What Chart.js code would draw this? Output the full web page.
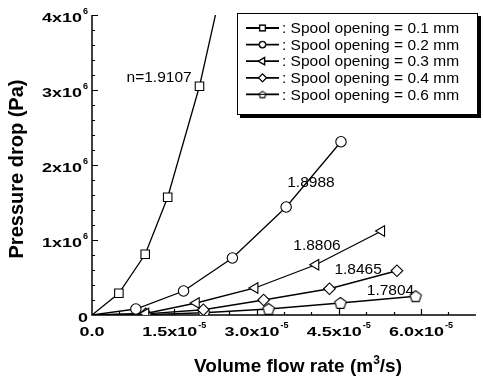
<!DOCTYPE html>
<html>
<head>
<meta charset="utf-8">
<script src="https://cdn.jsdelivr.net/npm/chart.js@4.4.1/dist/chart.umd.min.js"></script>
<style>
html, body { margin: 0; padding: 0; background: #fff; }
canvas { display: block; }
</style>
</head>
<body>
<canvas id="chart" width="483" height="382"></canvas>
<script>
// data (flow in m^3/s, pressure drop in Pa)
const flow01 = [0, 0.49e-5, 0.97e-5, 1.38e-5, 1.96e-5, 2.45e-5];
const dp01   = [0, 0.29e6, 0.81e6, 1.57e6, 3.05e6, 4.65e6];
const flow02 = [0, 0.80e-5, 1.67e-5, 2.56e-5, 3.54e-5, 4.54e-5];
const dp02   = [0, 0.08e6, 0.32e6, 0.76e6, 1.44e6, 2.31e6];
const flow03 = [0, 0.98e-5, 1.90e-5, 2.97e-5, 4.08e-5, 5.28e-5];
const dp03   = [0, 0.02e6, 0.16e6, 0.36e6, 0.67e6, 1.12e6];
const flow04 = [0, 0.98e-5, 2.03e-5, 3.13e-5, 4.33e-5, 5.56e-5];
const dp04   = [0, 0.015e6, 0.07e6, 0.20e6, 0.35e6, 0.59e6];
const flow06 = [0, 0.98e-5, 2.04e-5, 3.22e-5, 4.53e-5, 5.90e-5];
const dp06   = [0, 0.005e6, 0.03e6, 0.08e6, 0.16e6, 0.25e6];

const seriesNames = [': Spool opening = 0.1 mm', ': Spool opening = 0.2 mm', ': Spool opening = 0.3 mm',
                     ': Spool opening = 0.4 mm', ': Spool opening = 0.6 mm'];
const exponents = ['n=1.9107', '1.8988', '1.8806', '1.8465', '1.7804'];
// where each exponent label sits, in data units
const expAnchorX = [0.63e-5, 3.56e-5, 3.67e-5, 4.42e-5, 5.01e-5];
const expAnchorY = [3.16e6, 1.77e6, 0.93e6, 0.60e6, 0.33e6];

const xTickValues = [0, 1.5e-5, 3.0e-5, 4.5e-5, 6.0e-5];
const xTickLabels = ['0.0', '1.5x10^-5', '3.0x10^-5', '4.5x10^-5', '6.0x10^-5'];
const yTickValues = [0, 1e6, 2e6, 3e6, 4e6];
const yTickLabels = ['0', '1x10^6', '2x10^6', '3x10^6', '4x10^6'];

const FONT = '"Liberation Sans", Arial, sans-serif';

// pentagon marker (no built-in style for it)
function pentagon(r) {
  const c = document.createElement('canvas');
  const s = Math.ceil(r * 2 + 4);
  c.width = s; c.height = s;
  const g = c.getContext('2d');
  g.beginPath();
  for (let i = 0; i < 5; i++) {
    const a = -Math.PI / 2 + i * 2 * Math.PI / 5;
    const px = s / 2 + r * Math.cos(a), py = s / 2 + 0.5 + r * Math.sin(a);
    i ? g.lineTo(px, py) : g.moveTo(px, py);
  }
  g.closePath();
  g.fillStyle = '#fff'; g.fill();
  g.lineWidth = 1.1; g.strokeStyle = '#000'; g.stroke();
  return c;
}
const pentBig = pentagon(6);
const pentSmall = pentagon(3.6);

const markers = [
  { style: 'rect', r: 6, rot: 0, lr: 3.8 },
  { style: 'circle', r: 5.2, rot: 0, lr: 3 },
  { style: 'triangle', r: 6, rot: -90, lr: 3.8 },
  { style: 'rectRot', r: 5.8, rot: 0, lr: 3.6 },
  { style: pentBig, r: 6, rot: 0, lr: 3, small: pentSmall }
];

function makeSet(i, xv, yv) {
  const m = markers[i];
  return {
    label: seriesNames[i],
    data: xv.map((x, k) => ({ x: x, y: yv[k] })),
    borderColor: '#000',
    borderWidth: 1.3,
    backgroundColor: '#fff',
    pointStyle: m.style,
    pointRadius: xv.map((x, k) => k === 0 ? 0 : m.r),
    pointRotation: m.rot,
    pointBorderColor: '#000',
    pointBackgroundColor: '#fff',
    pointBorderWidth: 1.1,
    tension: 0,
    fill: false
  };
}

function drawSci(ctx, label, x, y, align) {
  const parts = label.split('^');
  const base = parts[0], exp = parts[1] || '';
  const stretch = 1.33;
  ctx.font = 'bold 13.5px ' + FONT;
  const bw = ctx.measureText(base).width * stretch;
  ctx.font = 'bold 9px ' + FONT;
  const ew = exp ? ctx.measureText(exp).width + 1 : 0;
  const total = bw + ew;
  const left = align === 'right' ? x - total : x - total / 2;
  ctx.textAlign = 'left';
  ctx.textBaseline = 'middle';
  ctx.save();
  ctx.translate(left, y);
  ctx.scale(stretch, 1);
  ctx.font = 'bold 13.5px ' + FONT;
  ctx.fillText(base, 0, 0);
  ctx.restore();
  if (exp) {
    ctx.font = 'bold 9px ' + FONT;
    ctx.fillText(exp, left + bw + 1, y - 6);
  }
}

const framePlugin = {
  id: 'frame',
  beforeDatasetsDraw(chart) {
    const ctx = chart.ctx, xs = chart.scales.x, ys = chart.scales.y, a = chart.chartArea;
    ctx.save();
    ctx.strokeStyle = '#000';
    ctx.fillStyle = '#000';
    ctx.lineWidth = 1.5;
    ctx.beginPath();
    ctx.moveTo(a.left, a.top);
    ctx.lineTo(a.left, a.bottom);
    ctx.lineTo(a.right, a.bottom);
    ctx.stroke();

    ctx.lineWidth = 1.2;
    ctx.beginPath();
    for (let i = 1; i <= 20; i++) {
      const py = Math.round(ys.getPixelForValue(i * 2e5)) + 0.5;
      const len = i % 5 === 0 ? 6 : 3;
      ctx.moveTo(a.left, py);
      ctx.lineTo(a.left + len, py);
    }
    for (let i = 1; i <= 13; i++) {
      const px = Math.round(xs.getPixelForValue(i * 0.5e-5)) + 0.5;
      const len = i % 3 === 0 ? 6 : 3;
      ctx.moveTo(px, a.bottom);
      ctx.lineTo(px, a.bottom - len);
    }
    ctx.stroke();

    yTickValues.forEach((v, i) => drawSci(ctx, yTickLabels[i], a.left - 4, ys.getPixelForValue(v) + 3, 'right'));
    xTickValues.forEach((v, i) => drawSci(ctx, xTickLabels[i], xs.getPixelForValue(v), a.bottom + 17, 'center'));

    // axis titles
    ctx.font = 'bold 19px ' + FONT;
    const t1 = 'Volume flow rate (m', t2 = '/s)';
    const w1 = ctx.measureText(t1).width, w2 = ctx.measureText(t2).width;
    ctx.font = 'bold 12px ' + FONT;
    const w3 = ctx.measureText('3').width;
    let tx = 298 - (w1 + w2 + w3) / 2;
    const ty = 367;
    ctx.textAlign = 'left';
    ctx.textBaseline = 'middle';
    ctx.font = 'bold 19px ' + FONT;
    ctx.fillText(t1, tx, ty);
    ctx.font = 'bold 12px ' + FONT;
    ctx.fillText('3', tx + w1, ty - 6);
    ctx.font = 'bold 19px ' + FONT;
    ctx.fillText(t2, tx + w1 + w3, ty);

    ctx.save();
    ctx.translate(17, 169);
    ctx.rotate(-Math.PI / 2);
    ctx.textAlign = 'center';
    ctx.font = 'bold 20px ' + FONT;
    ctx.fillText('Pressure drop (Pa)', 0, 0);
    ctx.restore();
    ctx.restore();
  },
  afterDraw(chart) {
    const ctx = chart.ctx, xs = chart.scales.x, ys = chart.scales.y;
    ctx.save();
    ctx.fillStyle = '#000';
    ctx.textAlign = 'left';
    ctx.textBaseline = 'middle';
    ctx.font = '15.5px ' + FONT;
    exponents.forEach((t, i) => ctx.fillText(t, xs.getPixelForValue(expAnchorX[i]), ys.getPixelForValue(expAnchorY[i])));

    // legend box with drop shadow
    const L = 237, T = 13, R = 478, B = 115;
    ctx.fillRect(L + 3, B, R - L, 3);
    ctx.fillRect(R, T + 3, 3, B - T);
    ctx.fillStyle = '#fff';
    ctx.fillRect(L, T, R - L, B - T);
    ctx.strokeStyle = '#000';
    ctx.lineWidth = 1;
    ctx.strokeRect(L + 0.5, T + 0.5, R - L - 1, B - T - 1);
    ctx.fillStyle = '#000';
    ctx.font = '15.5px ' + FONT;
    seriesNames.forEach((name, i) => {
      const y = 28 + i * 16.6;
      ctx.lineWidth = 1.8;
      ctx.beginPath();
      ctx.moveTo(246, y);
      ctx.lineTo(279, y);
      ctx.stroke();
      const m = markers[i];
      Chart.helpers.drawPoint(ctx, {
        pointStyle: m.small || m.style, radius: m.lr, rotation: m.rot, borderWidth: 1
      }, 262.5, y);
      ctx.fillStyle = '#fff';
      ctx.fill();
      ctx.lineWidth = 1;
      ctx.stroke();
      ctx.fillStyle = '#000';
      ctx.fillText(name, 282, y + 1);
    });
    ctx.restore();
  }
};

new Chart(document.getElementById('chart'), {
  type: 'line',
  data: {
    datasets: [
      makeSet(0, flow01, dp01),
      makeSet(1, flow02, dp02),
      makeSet(2, flow03, dp03),
      makeSet(3, flow04, dp04),
      makeSet(4, flow06, dp06)
    ]
  },
  options: {
    responsive: false,
    animation: false,
    devicePixelRatio: 1,
    layout: { padding: { left: 92, right: 0, top: 15, bottom: 67 } },
    plugins: { legend: { display: false }, tooltip: { enabled: false } },
    scales: {
      x: { type: 'linear', min: 0, max: 7e-5, display: false },
      y: { type: 'linear', min: 0, max: 4e6, display: false }
    }
  },
  plugins: [framePlugin]
});
</script>
</body>
</html>
